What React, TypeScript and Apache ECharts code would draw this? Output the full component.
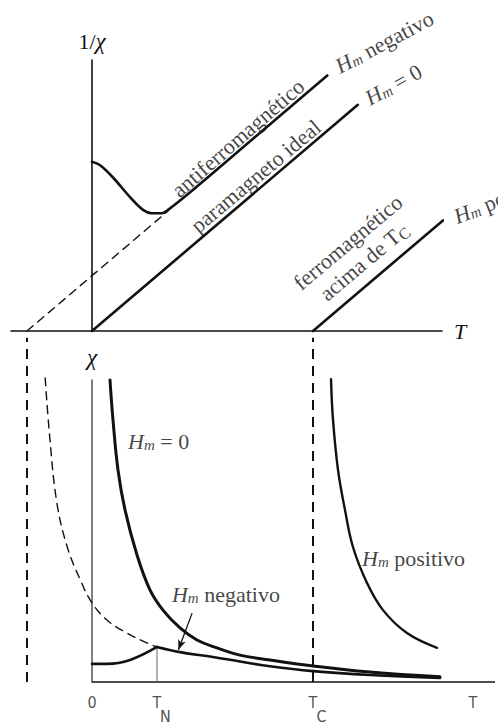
import React, { useEffect, useRef } from "react";
import * as echarts from "echarts";

// Temperature axis in reduced units: T_N = 1, Curie–Weiss intercept θ = −1
const T_N = 1;
const T_C = 3.4;
const THETA = -1;
const T_END = 6.2;

// Upper panel — inverse susceptibility 1/χ against T
const idealT = [0, 4.09];
const idealInv = [0, 4.09];
const antiExtrapT = [THETA, 1.17];
const antiExtrapInv = [0, 2.17];
const antiT = [0, 0.12, 0.32, 0.585, 0.785, 0.92, 1.08, 1.17, 1.5, 2.5, 3.62];
const antiInv = [3.06, 3.0, 2.78, 2.42, 2.19, 2.13, 2.13, 2.19, 2.5, 3.5, 4.62];
const ferroT = [T_C, 5.4];
const ferroInv = [0, 2.0];

// Lower panel — susceptibility χ against T
const zeroT = [0.277, 0.323, 0.4, 0.508, 0.692, 0.892, 1.092, 1.354, 1.615, 1.923, 2.277, 2.738, 3.4, 4.277, 5.354];
const zeroChi = [10.0, 8.68, 7.02, 5.7, 4.21, 3.05, 2.38, 1.79, 1.39, 1.13, 0.89, 0.73, 0.53, 0.33, 0.17];
const negBelowT = [0, 0.23, 0.585, T_N];
const negBelowChi = [0.6, 0.6, 0.73, 1.16];
const negAboveT = [T_N, 1.354, 1.862, 2.277, 2.738, 3.4, 4.277, 5.354];
const negAboveChi = [1.16, 0.99, 0.83, 0.68, 0.52, 0.36, 0.23, 0.13];
const extrapT = [-0.72, -0.65, -0.54, -0.38, -0.18, 0, 0.23, 0.54, 0.85, T_N];
const extrapChi = [10.07, 8.11, 5.93, 4.47, 3.38, 2.62, 2.05, 1.62, 1.29, 1.16];
const posT = [3.677, 3.708, 3.785, 3.892, 4.015, 4.231, 4.477, 4.846, 5.308];
const posChi = [10.03, 8.68, 7.02, 5.7, 4.47, 3.28, 2.38, 1.62, 1.13];
const guideChi = [0, 11.4];

// Tick labels of the lower T axis
const tickValues = [0, T_N, T_C, 5.86];
const tickLabels = ["0", "{t|T}\n{s|N}", "{t|T}\n{s|C}", "T"];

const INK = "#111";
const SERIF = "'Liberation Serif', 'DejaVu Serif', 'Times New Roman', serif";
const NARROW = "'Liberation Sans Narrow', 'DejaVu Sans Condensed', 'Roboto Condensed', 'Liberation Sans', sans-serif";
const FS = 22;

const zip = (xs: number[], ys: number[]) => xs.map((x, i) => [x, ys[i]]);

const hmRich = {
  h: { fontFamily: SERIF, fontStyle: "italic", fontSize: FS, color: INK, verticalAlign: "bottom" },
  m: { fontFamily: SERIF, fontStyle: "italic", fontSize: 15, color: INK, verticalAlign: "bottom" },
  r: { fontFamily: SERIF, fontSize: FS, color: INK, verticalAlign: "bottom" },
  sc: { fontFamily: SERIF, fontSize: 16, color: INK, verticalAlign: "bottom" },
};

const curve = (grid: number, data: number[][], extra: any = {}) => ({
  type: "line",
  xAxisIndex: grid,
  yAxisIndex: grid,
  data,
  symbol: "none",
  clip: false,
  silent: true,
  ...extra,
  lineStyle: { color: INK, width: 2.6, cap: "round", join: "round", ...(extra.lineStyle || {}) },
});

const textMarks = (grid: number, items: any[]) => ({
  type: "scatter",
  xAxisIndex: grid,
  yAxisIndex: grid,
  symbolSize: 0,
  clip: false,
  silent: true,
  data: items.map((it) => ({
    value: it.at,
    label: {
      show: true,
      formatter: it.text,
      position: it.anchor === "left" ? "right" : "inside",
      distance: 0,
      align: it.anchor === "left" ? "left" : "center",
      verticalAlign: "middle",
      rotate: it.rotate || 0,
      fontFamily: SERIF,
      fontSize: FS,
      lineHeight: 25,
      color: INK,
      rich: hmRich,
    },
  })),
});

const TICK_FS = 16;
const tickRich = {
  t: { fontFamily: NARROW, fontSize: TICK_FS, color: "#222", lineHeight: 14 },
  s: { fontFamily: NARROW, fontSize: TICK_FS, color: "#222", lineHeight: 14, padding: [0, 0, 0, 17] },
};

function buildOption() {
  return {
    animation: false,
    backgroundColor: "#fff",
    grid: [
      { left: 11, right: 56, top: 60, bottom: 393 },
      { left: 11, right: 3, top: 380, bottom: 42 },
    ],
    xAxis: [
      {
        type: "value",
        gridIndex: 0,
        min: -1.246,
        max: 5.385,
        name: "T",
        nameLocation: "end",
        nameGap: 12,
        nameTextStyle: { fontFamily: SERIF, fontStyle: "italic", fontSize: 22, color: INK, verticalAlign: "middle" },
        axisLine: { lineStyle: { color: INK, width: 1.6 } },
        axisTick: { show: false },
        axisLabel: { show: false },
        splitLine: { show: false },
      },
      {
        type: "value",
        gridIndex: 1,
        min: -1.246,
        max: T_END,
        axisLine: { show: false },
        axisTick: { show: false },
        axisLabel: { show: false },
        splitLine: { show: false },
      },
    ],
    yAxis: [
      {
        type: "value",
        gridIndex: 0,
        min: 0,
        max: 4.9,
        name: "{one|1/}{chi|χ}",
        nameLocation: "end",
        nameGap: 7,
        nameTextStyle: {
          rich: {
            one: { fontFamily: SERIF, fontSize: 22, color: INK },
            chi: { fontFamily: SERIF, fontStyle: "italic", fontSize: 23, color: INK },
          },
        },
        axisLine: { onZero: true, lineStyle: { color: INK, width: 1.6 } },
        axisTick: { show: false },
        axisLabel: { show: false },
        splitLine: { show: false },
      },
      {
        type: "value",
        gridIndex: 1,
        min: 0,
        max: 10,
        name: "χ",
        nameLocation: "end",
        nameGap: 11,
        nameTextStyle: { fontFamily: SERIF, fontStyle: "italic", fontSize: 23, color: INK },
        axisLine: { onZero: true, lineStyle: { color: "#555", width: 1.5 } },
        axisTick: { show: false },
        axisLabel: { show: false },
        splitLine: { show: false },
      },
    ],
    series: [
      // upper panel
      curve(0, zip(idealT, idealInv)),
      curve(0, zip(antiExtrapT, antiExtrapInv), { lineStyle: { width: 1.4, type: [8, 6] } }),
      curve(0, zip(antiT, antiInv), { smooth: 0.35 }),
      curve(0, zip(ferroT, ferroInv)),
      textMarks(0, [
        { at: [2.246, 3.49], text: "antiferromagnético", rotate: 41 },
        { at: [2.52, 2.8], text: "paramagneto ideal", rotate: 40 },
        { at: [4.06, 1.43], text: "ferromagnético\nacima de T{sc|C}", rotate: 40 },
        { at: [3.754, 4.79], text: "{h|H}{m|m}{r| negativo}", rotate: 28, anchor: "left" },
        { at: [4.215, 4.21], text: "{h|H}{m|m}{r| = 0}", rotate: 29, anchor: "left" },
        { at: [5.57, 2.08], text: "{h|H}{m|m}{r| positivo}", rotate: 22, anchor: "left" },
      ]),
      // lower panel: T axis baseline from T = 0
      curve(1, [[0, 0], [T_END, 0]], { lineStyle: { width: 1.6, cap: "butt" } }),
      curve(1, [[THETA, guideChi[0]], [THETA, guideChi[1]]], { lineStyle: { width: 2, type: [10, 7], cap: "butt" } }),
      curve(1, [[T_C, guideChi[0]], [T_C, guideChi[1]]], { lineStyle: { width: 2, type: [10, 7], cap: "butt" } }),
      curve(1, [[T_N, 0], [T_N, negBelowChi[negBelowChi.length - 1]]], { lineStyle: { width: 1, color: "#666" } }),
      curve(1, zip(extrapT, extrapChi), { smooth: 0.4, lineStyle: { width: 1.4, type: [8, 6] } }),
      curve(1, zip(zeroT, zeroChi), { smooth: 0.4, lineStyle: { width: 3 } }),
      curve(1, zip(negBelowT, negBelowChi), { smooth: 0.4 }),
      curve(1, zip(negAboveT, negAboveChi), {
        smooth: 0.4,
        markLine: {
          silent: true,
          symbol: ["none", "arrow"],
          symbolSize: [6, 10],
          label: { show: false },
          lineStyle: { color: INK, width: 1.3, type: "solid", curveness: 0.15 },
          data: [[{ coord: [1.54, 2.28] }, { coord: [1.33, 1.07] }]],
        },
      }),
      curve(1, zip(posT, posChi), { smooth: 0.4, lineStyle: { width: 2.4 } }),
      textMarks(1, [
        { at: [0.554, 8.01], text: "{h|H}{m|m}{r| = 0}", anchor: "left" },
        { at: [1.23, 2.95], text: "{h|H}{m|m}{r| negativo}", anchor: "left" },
        { at: [4.154, 4.14], text: "{h|H}{m|m}{r| positivo}", anchor: "left" },
      ]),
      // tick labels under the lower T axis
      {
        type: "scatter",
        xAxisIndex: 1,
        yAxisIndex: 1,
        symbolSize: 0,
        clip: false,
        silent: true,
        data: tickValues.map((v, i) => ({
          value: [v, 0],
          label: {
            show: true,
            formatter: tickLabels[i],
            position: "bottom",
            distance: 13,
            align: "center",
            verticalAlign: "top",
            fontFamily: NARROW,
            fontSize: TICK_FS,
            lineHeight: 14,
            color: "#222",
            rich: tickRich,
          },
        })),
      },
    ],
  };
}

export default function App() {
  const ref = useRef<HTMLDivElement>(null);
  useEffect(() => {
    if (!ref.current) return;
    const chart = echarts.init(ref.current, null, { renderer: "svg" });
    chart.setOption(buildOption() as any);
    return () => chart.dispose();
  }, []);
  return (
    <div
      ref={ref}
      style={{ position: "absolute", left: 0, top: 0, width: 498, height: 724, background: "#fff" }}
    />
  );
}
